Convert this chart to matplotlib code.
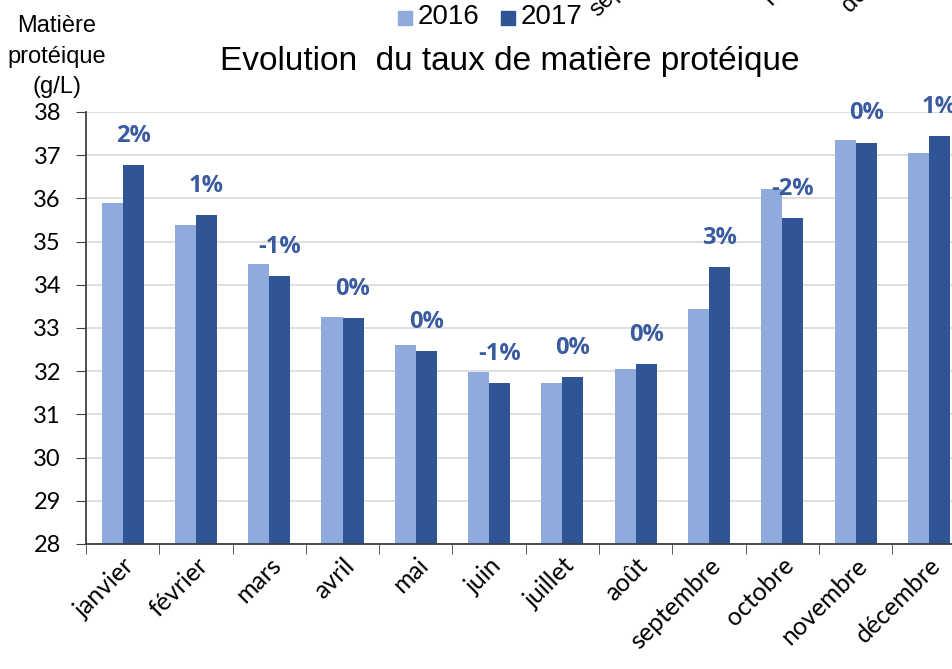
import numpy as np
from matplotlib import pyplot as plt
from matplotlib.ticker import FixedLocator

months = ["janvier", "février", "mars", "avril", "mai", "juin", "juillet",
          "août", "septembre", "octobre", "novembre", "décembre"]
tp_2016 = [35.90, 35.38, 34.47, 33.26, 32.61, 31.97, 31.73, 32.06, 33.44, 36.21, 37.35, 37.04]
tp_2017 = [36.76, 35.62, 34.20, 33.23, 32.47, 31.73, 31.87, 32.16, 34.40, 35.55, 37.29, 37.45]
evolution = ["2%", "1%", "-1%", "0%", "0%", "-1%", "0%", "0%", "3%", "-2%", "0%", "1%"]

light = "#8FAADC"
dark = "#2F5597"

fig = plt.figure(figsize=(9.52, 6.69), dpi=100)
ax = fig.add_axes([0.0903, 0.187, 0.924, 0.6457])

x = np.arange(len(months))
w = 0.287
ax.bar(x - w / 2, tp_2016, w, color=light, zorder=2)
ax.bar(x + w / 2, tp_2017, w, color=dark, zorder=2)

# labels over the 2017 bar
for xi, v, lab in zip(x, tp_2017, evolution):
    ax.annotate(lab, (xi + w / 2, v), xytext=(0, 21), textcoords="offset points",
                ha="center", va="center", color="#3A5BA0", fontsize=17,
                fontweight="bold", family="Open Sans")

ax.set_xlim(-0.5, 11.5)
ax.set_ylim(28, 38)
ax.set_yticks(range(28, 39))
ax.tick_params(axis="y", labelsize=17, length=7, pad=11, color="#404040")
for t in ax.get_yticklabels():
    t.set_family("Lato")

ax.set_xticks(x)
ax.set_xticklabels(months, rotation=45, ha="right", rotation_mode="anchor",
                   fontsize=18, family="Lato")
ax.tick_params(axis="x", which="major", length=0, pad=7)
ax.xaxis.set_minor_locator(FixedLocator(np.arange(-0.5, 12, 1)))
ax.tick_params(axis="x", which="minor", length=7, color="#404040")

ax.grid(axis="y", color="#D9D9D9", linewidth=1.2, zorder=0)
ax.set_axisbelow(True)
for s in ["top", "right"]:
    ax.spines[s].set_visible(False)
ax.spines["left"].set_color("#404040")
ax.spines["bottom"].set_color("#404040")
ax.spines["left"].set_linewidth(1.3)
ax.spines["bottom"].set_linewidth(1.3)

fig.text(0.535, 0.908, "Evolution  du taux de matière protéique", ha="center", va="center",
         fontsize=24, family="Liberation Sans")
fig.text(0.06, 0.915, "Matière\nprotéique\n(g/L)", ha="center", va="center",
         fontsize=17, linespacing=1.5, family="Liberation Sans")

# legend
fig.patches.append(plt.Rectangle((0.418, 0.962), 0.015, 0.022, color=light,
                                 transform=fig.transFigure))
fig.text(0.439, 0.975, "2016", va="center", fontsize=20, family="Liberation Sans")
fig.patches.append(plt.Rectangle((0.526, 0.962), 0.015, 0.022, color=dark,
                                 transform=fig.transFigure))
fig.text(0.547, 0.975, "2017", va="center", fontsize=20, family="Liberation Sans")

# cut-off labels of the chart above
for xf, yf, word in [(0.615, 0.968, "septembre"), (0.798, 0.985, "novembre"),
                     (0.880, 0.975, "décembre")]:
    fig.text(xf, yf, word, rotation=45, ha="left", va="bottom",
             fontsize=17, family="Liberation Sans")

fig.savefig("out.png", dpi=100)
